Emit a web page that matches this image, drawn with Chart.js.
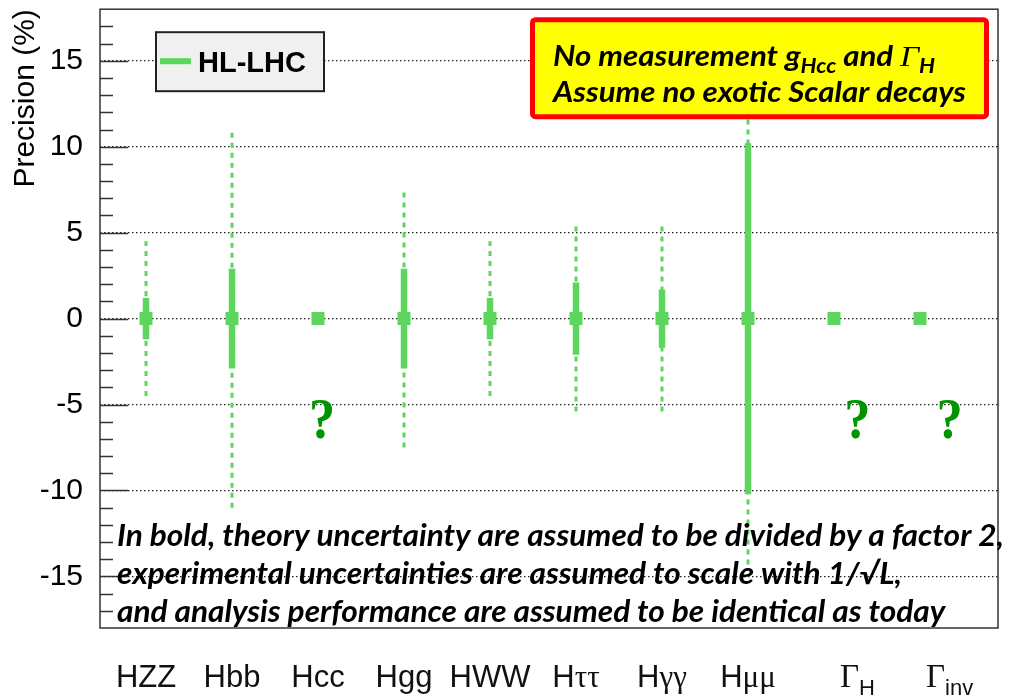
<!DOCTYPE html>
<html>
<head>
<meta charset="utf-8">
<script src="https://cdn.jsdelivr.net/npm/chart.js@4.4.1/dist/chart.umd.min.js"></script>
<style>
  html, body { margin: 0; padding: 0; background: #fff; }
  #wrap { width: 1016px; height: 695px; }
</style>
</head>
<body>
<div id="wrap"><canvas id="precisionChart" width="1016" height="695"></canvas></div>
<script>
// coupling categories (subscript drawn after the main label)
const categories = ['HZZ', 'Hbb', 'Hcc', 'Hgg', 'HWW', 'Hττ', 'Hγγ', 'Hμμ', 'Γ', 'Γ'];
const categorySubs = ['', '', '', '', '', '', '', '', 'H', 'inv'];

// central values and half-widths in %; null = no measurement
const centralValue = [0, 0, 0, 0, 0, 0, 0, 0, 0, 0];
const boldErr   = [1.2, 2.9, null, 2.9, 1.2, 2.1, 1.7, 10.2, null, null];
const dottedErr = [4.5, 11.0, null, 7.5, 4.5, 5.4, 5.4, 14.3, null, null];

const yTicks = [-15, -10, -5, 0, 5, 10, 15];
const yMin = -18, yMax = 18;
const xMin = -0.535, xMax = 9.907;
const unknownY = -6;   // where the "?" goes

const legendLabel = 'HL-LHC';
const boxLine1 = ['No measurement g', 'Hcc', ' and ', 'Γ', 'H'];
const boxLine2 = 'Assume no exotic Scalar decays';
const noteLines = [
  'In bold, theory uncertainty are assumed to be divided by a factor 2,',
  'experimental uncertainties are assumed to scale with 1/√L,',
  'and analysis performance are assumed to be identical as today'
];

const green = '#5cd65c';
const SANS = '"Liberation Sans", Arial, sans-serif';
const SERIF = '"Liberation Serif", "Times New Roman", serif';
const CAL = 'Lato, "Open Sans", sans-serif';

// vertical segments separated by gaps
function segments(err) {
  const pts = [];
  err.forEach((e, i) => {
    if (e == null) return;
    pts.push({x: i, y: centralValue[i] - e}, {x: i, y: centralValue[i] + e}, {x: i, y: null});
  });
  return pts;
}

// draw text runs left to right, squeezed horizontally by sx
function drawRuns(ctx, runs, x, y, sx) {
  ctx.save();
  ctx.translate(x, y);
  ctx.scale(sx, 1);
  let cx = 0;
  runs.forEach(r => {
    ctx.font = r.font;
    ctx.fillText(r.t, cx, r.dy || 0);
    cx += ctx.measureText(r.t).width;
  });
  ctx.restore();
}

function labelRuns(i) {
  const txt = categories[i];
  const runs = [];
  if (categorySubs[i]) {
    runs.push({t: txt, font: '33px ' + SERIF});
    runs.push({t: categorySubs[i], font: '22px ' + SANS, dy: 8});
  } else {
    runs.push({t: txt[0], font: '31px ' + SANS});
    const rest = txt.slice(1);
    runs.push({t: rest, font: (/[^\x00-\x7F]/.test(rest) ? '31px ' + SERIF : '31px ' + SANS)});
  }
  return runs;
}

function runsWidth(ctx, runs) {
  let w = 0;
  runs.forEach(r => { ctx.font = r.font; w += ctx.measureText(r.t).width; });
  return w;
}

const overlay = {
  id: 'overlay',
  afterDatasetsDraw(chart) {
    const {ctx, chartArea: a, scales: {x, y}} = chart;
    ctx.save();

    // inward ticks on the left axis
    ctx.strokeStyle = '#333';
    ctx.lineWidth = 1.5;
    for (let v = yMin + 1; v < yMax; v++) {
      const py = Math.round(y.getPixelForValue(v)) + 0.5;
      const len = v % 5 === 0 ? 28 : 13;
      ctx.beginPath();
      ctx.moveTo(a.left, py);
      ctx.lineTo(a.left + len, py);
      ctx.stroke();
    }

    // frame
    ctx.strokeRect(a.left, a.top, a.right - a.left, a.bottom - a.top);

    // legend box
    const lx = a.left + 56, ly = a.top + 23;
    ctx.fillStyle = '#f0f0f0';
    ctx.fillRect(lx, ly, 168, 59);
    ctx.strokeStyle = '#222';
    ctx.lineWidth = 2;
    ctx.strokeRect(lx, ly, 168, 59);
    ctx.strokeStyle = green;
    ctx.lineWidth = 6;
    ctx.beginPath();
    ctx.moveTo(lx + 4, ly + 29);
    ctx.lineTo(lx + 35, ly + 29);
    ctx.stroke();
    ctx.fillStyle = '#000';
    ctx.font = 'bold 29px ' + SANS;
    ctx.textBaseline = 'alphabetic';
    ctx.fillText(legendLabel, lx + 42, ly + 40);

    // yellow note box
    const bx = a.right - 465.5, by = a.top + 10.5;
    ctx.fillStyle = '#ffff00';
    ctx.strokeStyle = '#ff0000';
    ctx.lineWidth = 5;
    ctx.beginPath();
    ctx.roundRect(bx, by, 454, 97, 3);
    ctx.fill();
    ctx.stroke();
    ctx.fillStyle = '#000';
    const big = 'italic bold 28px ' + CAL, sub = 'italic bold 20px ' + CAL;
    ctx.font = big;
    const sxBox = 413 / ctx.measureText(boxLine2).width;
    drawRuns(ctx, [
      {t: boxLine1[0], font: big},
      {t: boxLine1[1], font: sub, dy: 7},
      {t: boxLine1[2], font: big},
      {t: boxLine1[3], font: 'italic 30px ' + SERIF},
      {t: boxLine1[4], font: sub, dy: 7}
    ], bx + 20.5, by + 46.5, sxBox);
    drawRuns(ctx, [{t: boxLine2, font: big}], bx + 20.5, by + 82.5, sxBox);

    // note at the bottom
    const note = 'italic bold 30px ' + CAL;
    ctx.font = note;
    const sxNote = 887 / ctx.measureText(noteLines[0]).width;
    noteLines.forEach((t, k) => {
      drawRuns(ctx, [{t, font: note}], a.left + 17, 546 + k * 38, sxNote);
    });

    // category labels and "?" for unmeasured ones
    const labelBase = a.bottom + 59;
    categories.forEach((c, i) => {
      const runs = labelRuns(i);
      const w = runsWidth(ctx, runs);
      const px = x.getPixelForValue(i);
      const left = categorySubs[i] ? px + 6 : px - w / 2;
      ctx.fillStyle = '#111';
      drawRuns(ctx, runs, left, labelBase, 1);
      if (boldErr[i] == null && dottedErr[i] == null) {
        ctx.save();
        ctx.translate(left + w / 2 + (categorySubs[i] ? 0 : 4), y.getPixelForValue(unknownY) + 2);
        ctx.scale(1.05, 1.12);
        ctx.fillStyle = '#009400';
        ctx.font = 'bold 50px ' + SERIF;
        ctx.textAlign = 'center';
        ctx.textBaseline = 'middle';
        ctx.fillText('?', 0, 0);
        ctx.restore();
      }
    });

    ctx.restore();
  }
};

new Chart(document.getElementById('precisionChart'), {
  type: 'line',
  data: {
    datasets: [
      {
        label: legendLabel + ' total',
        data: segments(dottedErr),
        borderColor: green,
        borderWidth: 3,
        borderDash: [5, 5],
        pointRadius: 0,
        spanGaps: false
      },
      {
        label: legendLabel,
        data: segments(boldErr),
        borderColor: green,
        borderWidth: 6.5,
        pointRadius: 0,
        spanGaps: false
      },
      {
        label: 'central',
        data: categories.map((c, i) => ({x: i, y: centralValue[i]})),
        showLine: false,
        pointStyle: 'rect',
        pointRadius: 9.2,
        pointBackgroundColor: green,
        pointBorderWidth: 0
      }
    ]
  },
  options: {
    responsive: false,
    animation: false,
    layout: { padding: { top: 7, right: 18, bottom: 67, left: 0 } },
    scales: {
      x: { type: 'linear', display: false, min: xMin, max: xMax },
      y: {
        min: yMin,
        max: yMax,
        afterFit: s => { s.width = 100; s.paddingTop = 0; s.paddingBottom = 0; },
        afterBuildTicks: s => { s.ticks = yTicks.map(v => ({value: v})); },
        ticks: { padding: 17, color: '#000', font: { family: SANS, size: 30 } },
        grid: { color: '#222', lineWidth: 1.3, drawTicks: false },
        border: { display: false, dash: [1.5, 2.5] },
        title: {
          display: true,
          text: 'Precision (%)',
          align: 'end',
          color: '#000',
          font: { family: SANS, size: 30 },
          padding: { top: 8, bottom: 0 }
        }
      }
    },
    plugins: {
      legend: { display: false },
      tooltip: { enabled: false }
    }
  },
  plugins: [overlay]
});
</script>
</body>
</html>
